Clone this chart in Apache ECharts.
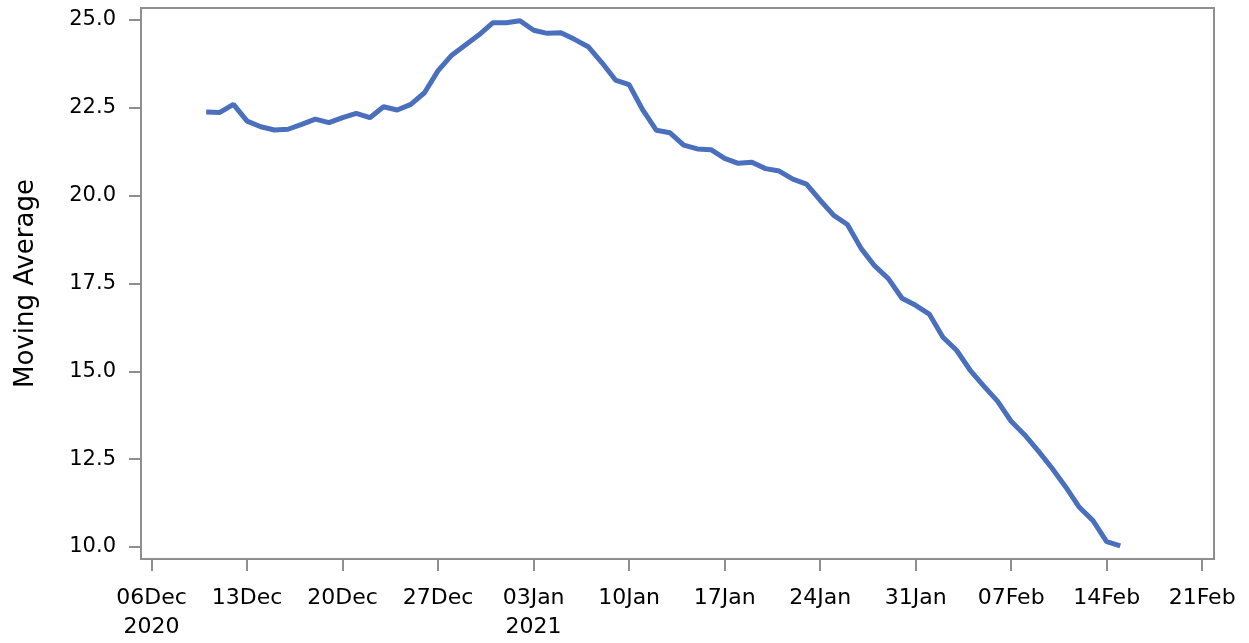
<!DOCTYPE html>
<html>
<head>
<meta charset="utf-8">
<script src="https://cdn.jsdelivr.net/npm/echarts@6/dist/echarts.min.js"></script>
<style>
html,body{margin:0;padding:0;background:#fff;}
#chart{width:1249px;height:643px;}
</style>
</head>
<body>
<div id="chart"></div>
<script>
// Daily dates from 10 Dec 2020 to 15 Feb 2021
const startDate = '2020-12-10';
const movingAverage = [
  22.38, 22.37, 22.60, 22.12, 21.96, 21.87, 21.89, 22.03, 22.18, 22.08,
  22.22, 22.34, 22.22, 22.53, 22.44, 22.60, 22.93, 23.56, 24.00, 24.29,
  24.58, 24.92, 24.92, 24.98, 24.71, 24.62, 24.64, 24.45, 24.24, 23.79,
  23.29, 23.16, 22.44, 21.86, 21.79, 21.44, 21.33, 21.31, 21.06, 20.92,
  20.95, 20.77, 20.70, 20.47, 20.33, 19.87, 19.44, 19.18, 18.50, 18.00,
  17.64, 17.08, 16.88, 16.63, 15.97, 15.60, 15.03, 14.58, 14.15, 13.58,
  13.19, 12.73, 12.24, 11.71, 11.13, 10.75, 10.15, 10.03
];
const tickDates = ['2020-12-06','2020-12-13','2020-12-20','2020-12-27','2021-01-03','2021-01-10',
  '2021-01-17','2021-01-24','2021-01-31','2021-02-07','2021-02-14','2021-02-21'];
const tickLabels = ['06Dec\n2020','13Dec','20Dec','27Dec','03Jan\n2021','10Jan',
  '17Jan','24Jan','31Jan','07Feb','14Feb','21Feb'];
const yTicks = [10, 12.5, 15, 17.5, 20, 22.5, 25];

const DAY = 86400000;
function ts(s){ const p = s.split('-').map(Number); return Date.UTC(p[0], p[1]-1, p[2]); }
const t0 = ts(startDate);
const seriesData = movingAverage.map((v, i) => [t0 + i * DAY, v]);
const tickTs = tickDates.map(ts);

const axisGray = '#8f8f8f';
const chart = echarts.init(document.getElementById('chart'), null, {renderer: 'canvas'});
chart.setOption({
  animation: false,
  backgroundColor: '#fff',
  grid: {left: 141, top: 8, width: 1073, height: 551, show: true, borderColor: axisGray, borderWidth: 2,
         backgroundColor: 'transparent', containLabel: false, outerBoundsMode: 'none'},
  xAxis: {
    type: 'value',
    min: tickTs[0] - 0.777 * DAY,
    max: tickTs[0] + 77.87 * DAY,
    splitLine: {show: false},
    axisLine: {show: true, lineStyle: {color: axisGray, width: 2}},
    axisTick: {show: true, length: 12, lineStyle: {color: axisGray, width: 2}, customValues: tickTs},
    axisLabel: {
      customValues: tickTs,
      margin: 24.5,
      fontFamily: 'DejaVu Sans', fontSize: 22, color: '#000', lineHeight: 29,
      formatter: function(v){ const i = tickTs.indexOf(v); return i >= 0 ? tickLabels[i] : ''; }
    }
  },
  yAxis: {
    type: 'value',
    min: 10 - 12 / 35.13,
    max: 25 + 12 / 35.13,
    name: 'Moving Average',
    nameLocation: 'middle',
    nameGap: 102,
    nameTextStyle: {fontFamily: 'DejaVu Sans', fontSize: 26, color: '#000'},
    splitLine: {show: false},
    axisLine: {show: true, lineStyle: {color: axisGray, width: 2}},
    axisTick: {show: true, length: 12, lineStyle: {color: axisGray, width: 2}, customValues: yTicks},
    axisLabel: {
      customValues: yTicks,
      margin: 25,
      fontFamily: 'DejaVu Sans', fontSize: 21, color: '#000',
      formatter: function(v){ return v.toFixed(1); }
    }
  },
  series: [{
    type: 'line',
    data: seriesData,
    showSymbol: false,
    symbol: 'none',
    lineStyle: {color: '#4a6fbd', width: 5},
    itemStyle: {color: '#4a6fbd'}
  }]
});
</script>
</body>
</html>
